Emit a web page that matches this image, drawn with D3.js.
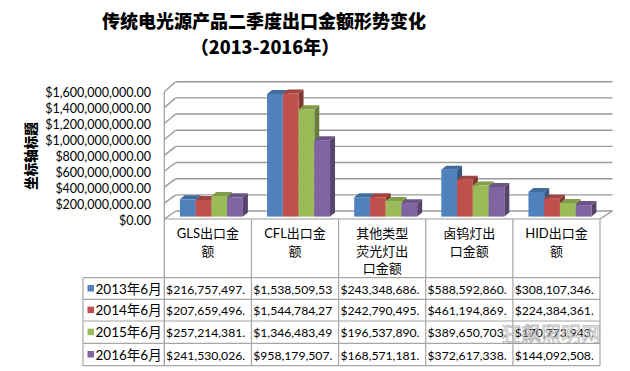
<!DOCTYPE html>
<html><head><meta charset="utf-8">
<script src="https://cdn.jsdelivr.net/npm/d3@7"></script>
<style>body{margin:0;background:#fff}svg{display:block}</style>
</head><body>
<svg id="c" width="630" height="371"></svg>
<script>
const categories = [["GLS出口金","额"],["CFL出口金","额"],["其他类型","荧光灯出","口金额"],["卤钨灯出","口金额"],["HID出口金","额"]];
const seriesNames = ["2013年6月","2014年6月","2015年6月","2016年6月"];
const v2013 = [216757497, 1538509530, 243348686, 588592860, 308107346];
const v2014 = [207659496, 1544784270, 242790495, 461194869, 224384361];
const v2015 = [257214381, 1346483490, 196537890, 389650703, 170773943];
const v2016 = [241530026, 958179507, 168571181, 372617338, 144092508];
const yTicks = [0,200000000,400000000,600000000,800000000,1000000000,1200000000,1400000000,1600000000];
const colors = ["#4F81BD","#C0504D","#9BBB59","#8064A2"];
const title1 = "传统电光源产品二季度出口金额形势变化";
const title2 = "（2013-2016年）";
const axisTitle = "坐标轴标题";

const series = [v2013,v2014,v2015,v2016];
const svg = d3.select("#c");
const cjk = "'Noto Sans CJK SC','Microsoft YaHei',sans-serif";
const latin = "Lato,'Noto Sans CJK SC',sans-serif";

// geometry
const xL = 164.3, xR = 600, dX = 11.5;
const yFront = d3.scaleLinear().domain([0,1.6e9]).range([219,91.7]);
const yBack = d3.scaleLinear().domain([0,1.6e9]).range([211,81.7]);
const yBar = d3.scaleLinear().domain([0,1.6e9]).range([216.6,89]);
const xCat = d3.scaleBand().domain(d3.range(categories.length)).range([xL,xR]);
const xSer = d3.scaleBand().domain(d3.range(series.length)).range([15.6,78.6]);

// titles
svg.append("text").attr("x",264).attr("y",28).attr("text-anchor","middle")
  .style("font-family",cjk).style("font-weight","900").style("font-size","18px").text(title1);
svg.append("text").attr("x",265).attr("y",54).attr("text-anchor","middle")
  .style("font-family",cjk).style("font-weight","900").style("font-size","18px").text(title2);
svg.append("text").attr("transform","translate(36,156) rotate(-90)").attr("text-anchor","middle")
  .style("font-family",cjk).style("font-weight","900").style("font-size","13.5px").text(axisTitle);

const grid = "#9a9a9a";
// gridlines: left wall + back wall
yTicks.forEach(t=>{
  svg.append("line").attr("x1",xL).attr("y1",yFront(t)).attr("x2",xL+dX).attr("y2",yBack(t))
    .attr("stroke",grid).attr("stroke-width",1.4);
  svg.append("line").attr("x1",xL+dX).attr("y1",yBack(t)).attr("x2",xR+12.5).attr("y2",yBack(t))
    .attr("stroke",grid).attr("stroke-width",1.4);
});
// floor outline
svg.append("line").attr("x1",xL).attr("y1",219).attr("x2",xR).attr("y2",219).attr("stroke",grid).attr("stroke-width",1.2);
svg.append("line").attr("x1",xR).attr("y1",219).attr("x2",xR+12.5).attr("y2",yBack(0)).attr("stroke",grid).attr("stroke-width",1.2);
svg.append("line").attr("x1",xL).attr("y1",yFront(1.6e9)).attr("x2",xL).attr("y2",365.7).attr("stroke",grid).attr("stroke-width",1.2);

// tick labels
const fmt = d3.format("$,.2f");
svg.append("g").selectAll("text").data(yTicks).join("text")
  .attr("x",151).attr("y",d=>yFront(d)+2.5).attr("text-anchor","end").attr("dominant-baseline","middle")
  .style("font-family",latin).style("font-size","12.5px").style("fill","#000").text(d=>fmt(d));

// bars
const bw = xSer.bandwidth(), bdx = 5, bdy = 4;
function shade(c,k){return d3.color(c).darker(k).formatHex();}
series.forEach((vals,s)=>{
  vals.forEach((v,i)=>{
    const x0 = xCat(i)+xSer(s), x1 = x0+bw, yt = yBar(v), yb = yBar(0);
    const g = svg.append("g");
    g.append("polygon").attr("points",[[x1,yt],[x1+bdx,yt-bdy],[x1+bdx,yb-bdy],[x1,yb]].join(" ")).attr("fill",shade(colors[s],1.1));
    g.append("polygon").attr("points",[[x0,yt],[x0+bdx,yt-bdy],[x1+bdx,yt-bdy],[x1,yt]].join(" ")).attr("fill",shade(colors[s],0.5));
    g.append("rect").attr("x",x0).attr("y",yt).attr("width",bw).attr("height",yb-yt).attr("fill",colors[s]);
  });
});

// data table
const rowTop = [277.7,299.3,321,343.3], rowBot = 365.7, legL = 83;
const tline = "#a6a6a6";
xCat.domain().forEach(i=>{
  const x = xCat(i)+xCat.bandwidth();
  svg.append("line").attr("x1",x).attr("y1",219).attr("x2",x).attr("y2",rowBot).attr("stroke",tline).attr("stroke-width",1.2);
});
rowTop.concat([rowBot]).forEach(y=>{
  svg.append("line").attr("x1",legL).attr("y1",y).attr("x2",xR).attr("y2",y).attr("stroke",tline).attr("stroke-width",1.2);
});
svg.append("line").attr("x1",legL).attr("y1",rowTop[0]).attr("x2",legL).attr("y2",rowBot).attr("stroke",tline).attr("stroke-width",1.2);

// header text
categories.forEach((lines,i)=>{
  const cx = xCat(i)+xCat.bandwidth()/2;
  lines.forEach((ln,k)=>{
    svg.append("text").attr("x",cx).attr("y",238+k*17.5).attr("text-anchor","middle")
      .style("font-family",latin).style("font-size","13px").text(ln);
  });
});
// legend + cells (text truncated to fit cell like the data table)
seriesNames.forEach((nm,s)=>{
  const yc = (rowTop[s] + (s<3?rowTop[s+1]:rowBot))/2;
  svg.append("rect").attr("x",87.5).attr("y",yc-3.5).attr("width",6.5).attr("height",6.5).attr("fill",colors[s]);
  svg.append("text").attr("x",95.5).attr("y",yc+5).style("font-family",latin).style("font-size","13.5px").text(nm);
  series[s].forEach((v,i)=>{
    const t = svg.append("text").attr("x",xCat(i)+1.8).attr("y",yc+5)
      .style("font-family",latin).style("font-size","12.2px");
    let str = d3.format("$,")(v)+".00";
    t.text(str);
    const maxW = xCat.bandwidth()-2;
    while(str.length>1 && t.node().getComputedTextLength()>maxW){ str = str.slice(0,-1); t.text(str); }
  });
});

// watermark
svg.append("text").attr("x",551).attr("y",342).attr("text-anchor","middle")
  .style("font-family",cjk).style("font-size","20px").style("fill","rgba(255,255,255,0.6)")
  .style("stroke","rgba(120,120,120,0.55)").style("stroke-width",0.8).text("狂飙照明网");
</script>
</body></html>
